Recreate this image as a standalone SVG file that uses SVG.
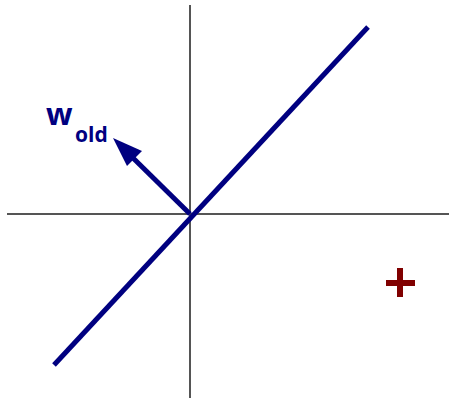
<svg xmlns="http://www.w3.org/2000/svg" width="449" height="398" viewBox="0 0 449 398">
<style>
.axis{stroke:#555;stroke-width:2;fill:none}
.blue{stroke:#000080;stroke-width:5;fill:none;stroke-linecap:butt}
.lbl{font-family:"Open Sans","DejaVu Sans",sans-serif;font-weight:bold;fill:#000080}
</style>
<rect width="449" height="398" fill="#fff"/>
<g id="connectors">
<line class="axis" x1="7" y1="214" x2="449" y2="214"/>
<line class="axis" x1="190" y1="5" x2="190" y2="398"/>
<line class="blue" x1="54" y1="365" x2="368" y2="27"/>
<line class="blue" x1="190" y1="214" x2="130" y2="155"/>
<polygon points="113,138 142,151 127,166" fill="#000080"/>
</g>
<g id="label">
<text class="lbl" x="46" y="125" font-size="31">w</text>
<text class="lbl" x="75" y="142" font-size="21">old</text>
</g>
<g id="plus">
<path d="M386,283H415M400,268V297" stroke="#800000" stroke-width="6" fill="none"/>
</g>
</svg>
